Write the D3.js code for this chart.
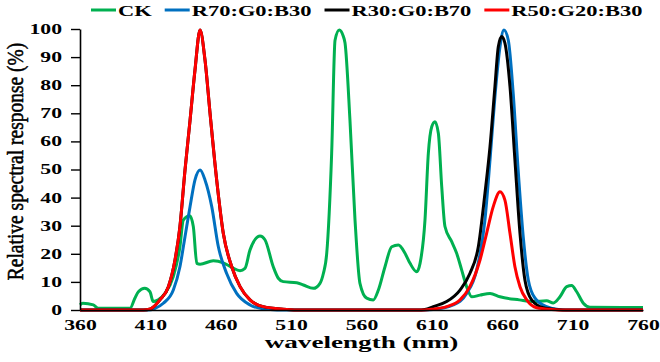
<!DOCTYPE html>
<html lang="en">
<head>
<meta charset="UTF-8">
<title>Relative spectral response</title>
<script src="https://d3js.org/d3.v7.min.js"></script>
<style>
  body { margin: 0; background: #fff; }
  svg { display: block; }
  text { font-family: "Liberation Serif", "Times New Roman", serif; fill: #000; }
  .tick text { font-weight: bold; font-size: 14px; }
</style>
</head>
<body>
<div id="chart"></div>
<script>
// spectra: [wavelength nm, relative response %]
const ck = [[360,1.8],[362,2.4],[369.5,1.8],[373,0.6],[395.5,0.6],[399,4.2],[401.5,6.5],[406,7.7],[409.7,6.5],[412,3],[415.6,3.6],[420.4,5.9],[426.3,11.9],[431,22.5],[433.4,32],[438,33.5],[440.5,29.7],[443,16.6],[445.3,16.3],[454.7,17.5],[461.8,16.8],[467.8,15.2],[473.7,14],[477.2,14.8],[480.8,21.4],[487.9,26.3],[491.4,25],[497.3,15.4],[500.9,11.3],[504.4,10.1],[514,9.7],[518.7,8.9],[525.8,7.7],[530.5,9.5],[532.9,13],[535.3,20.2],[538.8,55.8],[541.2,96],[544.2,99.6],[547,97.5],[548.3,95],[551.8,67.6],[555.4,32],[558.9,9.5],[563.7,4.2],[568.4,3.6],[572,7.1],[576.7,15.4],[581.5,22.5],[586.2,23.1],[590.9,20.2],[594.5,16.6],[599.2,13.6],[601.6,16.6],[605.1,32],[607.5,55.8],[609.9,65.2],[612.2,67],[614.6,62.9],[617,43.9],[619.3,29.7],[624.1,24.3],[627.6,20.2],[631.2,14.2],[634.7,8.3],[638.3,4.7],[644.2,5.3],[651.3,5.9],[658.4,4.7],[672.1,3.6],[682,3],[691.5,3.3],[696.3,2.5],[701,4.7],[705.8,8.3],[709.3,8.7],[712.9,6.5],[717.6,2.4],[722.3,1],[760,0.9]];
const r70g0b30 = [[360,0],[408,0],[413,0.5],[419.2,2.4],[426.3,7.1],[431,15.4],[434.6,26.1],[438.2,36.8],[441.7,46.3],[445.3,49.8],[448.8,46.3],[453.6,36.8],[458.3,22.5],[464.2,13],[471.3,5.9],[480.8,1.8],[490.2,0.4],[500,0],[600,0],[611,0.2],[625.2,1.8],[634.7,5.9],[641.8,14.2],[647.7,32],[651.3,53.4],[654.8,75.9],[658.4,93.7],[661.2,99.6],[664.3,96],[667.8,77],[671.3,49.8],[674.9,26.1],[678.5,10.7],[683.3,4.2],[691.5,1.2],[700,0.2],[710,0],[760,0]];
const r30g0b70 = [[360,0],[405,0],[410,0.4],[416.8,3.6],[422.8,8.3],[427.5,17.8],[431,29.7],[434.6,49.8],[438.2,67.6],[441.7,85.4],[445.3,99.6],[448.8,89],[452.4,70],[457.1,46.3],[461.8,27.3],[467.8,15.4],[473.7,8.3],[480.8,3.6],[490.2,1.2],[504.4,0.3],[520,0],[600,0],[605,0.2],[611,1.2],[620.5,3],[630,7.1],[637,13],[643,22.5],[647.7,41.5],[651.3,58.1],[654.8,79.5],[657.2,93.7],[659.6,97.3],[661.9,95],[665.5,79.5],[669,53.4],[672.6,27.3],[676.1,10.7],[680.9,3.6],[689.2,0.8],[698,0.2],[708,0],[760,0]];
const r50g20b30 = [[360,0],[405,0],[410,0.4],[416.8,3.6],[422.8,8.3],[427.5,17.8],[431,29.7],[434.6,49.8],[438.2,67.6],[441.7,85.4],[445.3,99.6],[448.8,89],[452.4,70],[457.1,46.3],[461.8,27.3],[467.8,15.4],[473.7,8.3],[480.8,3.6],[490.2,1.2],[504.4,0.3],[520,0],[600,0],[610,0.3],[620.5,1.2],[630,3.6],[637,8.3],[644.2,17.8],[648.9,27.3],[653.6,36.8],[658.4,42.1],[661.9,39.1],[665.5,27.3],[669,15.4],[672.6,8.3],[677.4,3.6],[684.5,0.8],[695,0.2],[705,0],[760,0]];

const seriesNames = ["CK", "R70:G0:B30", "R30:G0:B70", "R50:G20:B30"];
const seriesData = [ck, r70g0b30, r30g0b70, r50g20b30];
const seriesColors = ["#00b050", "#0070c0", "#000000", "#ff0000"];
const xTicks = [360, 410, 460, 510, 560, 610, 660, 710, 760];
const yTicks = [0, 10, 20, 30, 40, 50, 60, 70, 80, 90, 100];

const W = 660, H = 362;
const SX = 1.55; // the picture is stretched sideways, text too
const margin = { top: 29, right: 17, bottom: 52, left: 80 };

const svg = d3.select("#chart").append("svg").attr("width", W).attr("height", H);

const x = d3.scaleLinear().domain([360, 760]).range([margin.left, W - margin.right]);
const y = d3.scaleLinear().domain([0, 100]).range([H - margin.bottom, margin.top]);

// stretch tick text sideways around its anchor
function stretchTicks(g) {
  g.selectAll(".tick text").each(function() {
    const t = d3.select(this);
    const tx = +t.attr("x") || 0;
    t.attr("x", 0).attr("transform", `translate(${tx},0) scale(${SX},1)`);
  });
}

// curves
const line = d3.line().x(d => x(d[0])).y(d => y(d[1])).curve(d3.curveMonotoneX);
svg.append("g").selectAll("path")
  .data(seriesData)
  .join("path")
  .attr("fill", "none")
  .attr("stroke", (d, i) => seriesColors[i])
  .attr("stroke-width", 3)
  .attr("stroke-linejoin", "round")
  .attr("d", line);

// axes
const yAxis = svg.append("g")
  .attr("transform", `translate(${margin.left},0)`)
  .call(d3.axisLeft(y).tickValues(yTicks).tickSizeInner(9).tickSizeOuter(0).tickPadding(9))
  .call(stretchTicks);
yAxis.select(".domain").attr("stroke-width", 1.6);
yAxis.selectAll(".tick line").attr("stroke-width", 1.4);

const xAxis = svg.append("g")
  .attr("transform", `translate(0,${y(0)})`)
  .call(d3.axisBottom(x).tickValues(xTicks).tickSizeInner(0).tickSizeOuter(0).tickPadding(10).tickFormat(d3.format("d")))
  .call(stretchTicks);
xAxis.select(".domain").attr("stroke-width", 1.6);

svg.selectAll(".tick text").attr("font-family", null);

// axis titles
svg.append("text")
  .attr("transform", `translate(${(x(360) + x(760)) / 2},348) scale(${SX * 1.03},1)`)
  .attr("text-anchor", "middle")
  .attr("font-weight", "bold")
  .attr("font-size", 17)
  .text("wavelength (nm)");

svg.append("text")
  .attr("transform", `translate(23,${(margin.top + y(0)) / 2 - 8}) rotate(-90) scale(1,1.2)`)
  .attr("text-anchor", "middle")
  .attr("font-size", 19.5)
  .attr("stroke", "#000")
  .attr("stroke-width", 0.45)
  .text("Relative spectral response (%)");

// legend
const legend = svg.append("g").attr("transform", "translate(91,10)");
let lx = 0;
seriesNames.forEach((name, i) => {
  const item = legend.append("g").attr("transform", `translate(${lx},0)`);
  item.append("line")
    .attr("x1", 0).attr("x2", 25).attr("y1", 0).attr("y2", 0)
    .attr("stroke", seriesColors[i]).attr("stroke-width", 3);
  const t = item.append("text")
    .attr("transform", `translate(27,5.5) scale(${SX},1)`)
    .attr("font-weight", "bold")
    .attr("font-size", 14.5)
    .text(name);
  lx += 27 + t.node().getComputedTextLength() * SX + 13;
});
</script>
</body>
</html>
